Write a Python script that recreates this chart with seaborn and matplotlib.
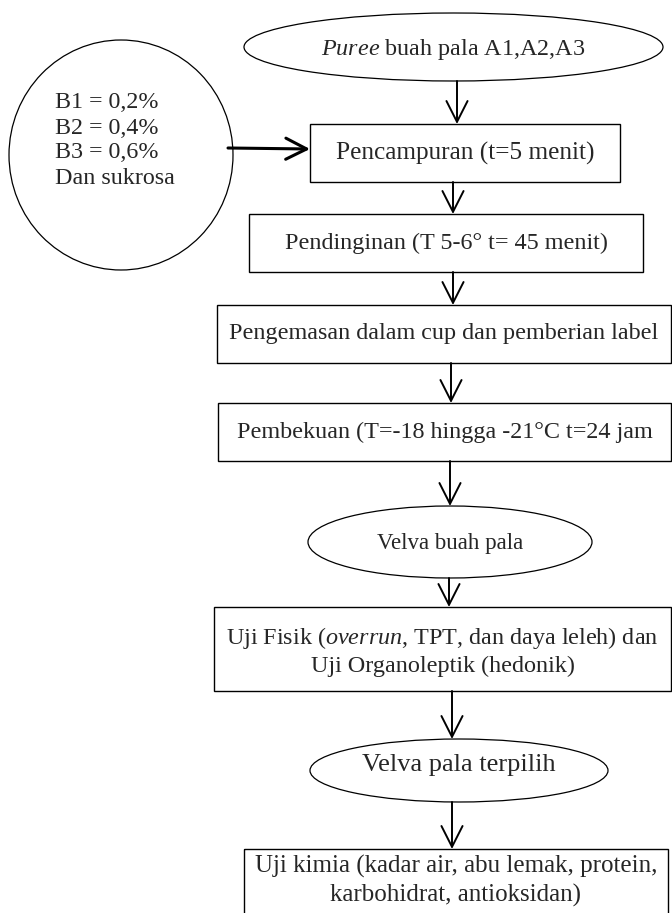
import matplotlib
matplotlib.use("Agg")
import matplotlib.pyplot as plt
from matplotlib.patches import Ellipse, Rectangle
import seaborn as sns

sns.set_theme(style="white")
plt.rcParams['font.family'] = ['Liberation Serif', 'DejaVu Serif']
plt.rcParams['mathtext.fontset'] = 'custom'
plt.rcParams['mathtext.rm'] = 'Liberation Serif'
plt.rcParams['mathtext.it'] = 'Liberation Serif:italic'

# flow steps (text of each node)
step_labels = [
    r"$\it{Puree}$ buah pala A1,A2,A3",
    "Pencampuran (t=5 menit)",
    "Pendinginan (T 5-6° t= 45 menit)",
    "Pengemasan dalam cup dan pemberian label",
    "Pembekuan (T=-18 hingga -21°C t=24 jam",
    "Velva buah pala",
    "Uji Fisik (" + r"$\it{overrun}$" + ", TPT, dan daya leleh) dan\nUji Organoleptik (hedonik)",
    "Velva pala terpilih",
    "Uji kimia (kadar air, abu lemak, protein,\nkarbohidrat, antioksidan)",
]
step_shapes = ["ellipse", "box", "box", "box", "box", "ellipse", "box", "ellipse", "box"]
side_labels = ["B1 = 0,2%", "B2 = 0,4%", "B3 = 0,6%", "Dan sukrosa"]

# layout in pixels: (x0, y0, x1, y1)
step_boxes = [
    (244, 13, 663, 81),
    (310, 124, 620, 182),
    (249, 214, 643, 272),
    (217, 305, 671, 363),
    (218, 403, 671, 461),
    (308, 506, 592, 578),
    (214, 607, 671, 691),
    (310, 739, 608, 802),
    (244, 849, 668, 930),
]
step_text_y = [50, 153, 243, 334, 432, 543, 651, 765, 881]
step_font = [17.4, 18.2, 17.4, 17.4, 17.4, 16.5, 17.4, 19, 18]
arrow_x = [457, 453, 453, 451, 450, 449, 452, 452]

fig = plt.figure(figsize=(6.72, 9.13), dpi=100)
ax = fig.add_axes([0, 0, 1, 1])
ax.set_xlim(0, 672)
ax.set_ylim(913, 0)
ax.axis('off')

for lab, shape, (x0, y0, x1, y1), ty, fs in zip(step_labels, step_shapes, step_boxes,
                                                step_text_y, step_font):
    if shape == "ellipse":
        ax.add_patch(Ellipse(((x0 + x1) / 2, (y0 + y1) / 2), x1 - x0, y1 - y0,
                             fill=False, ec='black', lw=0.9))
    else:
        ax.add_patch(Rectangle((x0, y0), x1 - x0, y1 - y0, fill=False,
                               ec='black', lw=1.0, clip_on=False))
    ax.text((x0 + x1) / 2, ty, lab, ha='center', va='center', fontsize=fs,
            linespacing=1.3)

# arrows between steps
arrow_style = dict(arrowstyle='->,head_length=0.75,head_width=0.38', color='black',
                   lw=1.4, mutation_scale=20, shrinkA=0, shrinkB=0)
for i, ax_x in enumerate(arrow_x):
    y_start = step_boxes[i][3]
    y_end = step_boxes[i + 1][1]
    ax.annotate('', xy=(ax_x, y_end), xytext=(ax_x, y_start), arrowprops=arrow_style)

# side input circle
ax.add_patch(Ellipse((121, 155), 224, 230, fill=False, ec='black', lw=0.9))
for k, lab in enumerate(side_labels):
    ax.text(55, 103 + k * 25, lab, ha='left', va='center', fontsize=17.3)
ax.annotate('', xy=(step_boxes[1][0], 149), xytext=(228, 148),
            arrowprops=dict(arrow_style, lw=2.2))

fig.savefig("out.png", dpi=100)
